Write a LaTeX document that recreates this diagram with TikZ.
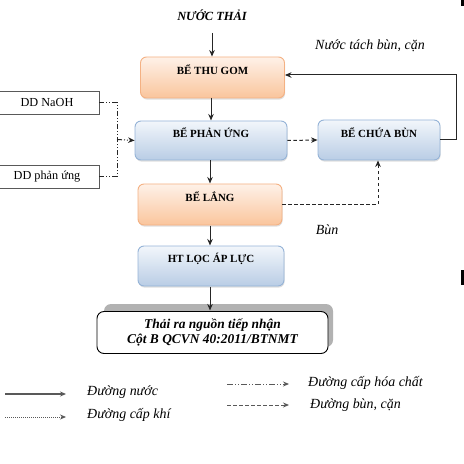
\documentclass[tikz,border=0pt]{standalone}
\usepackage{fontspec}
\setmainfont{Liberation Serif}
\usetikzlibrary{arrows.meta,shadows}
\definecolor{orB}{HTML}{F4B183}
\definecolor{orT}{HTML}{FEF1E8}
\definecolor{orM}{HTML}{FAC59C}
\definecolor{blB}{HTML}{95B3D7}
\definecolor{blT}{HTML}{F2F6FB}
\definecolor{blM}{HTML}{B9CDE5}
\definecolor{lg}{HTML}{595959}
\begin{document}
\begin{tikzpicture}[x=1bp,y=-1bp,
  base/.style={rounded corners=6bp, line width=0.9bp, inner sep=0pt,
    drop shadow={opacity=0.25, shadow xshift=0.6bp, shadow yshift=-1.6bp}},
  orangebox/.style={base, draw=orB, top color=orT, bottom color=orM},
  bluebox/.style={base, draw=blB, top color=blT, bottom color=blM},
  ttl/.style={font=\bfseries\fontsize{11}{13}\selectfont, anchor=center, yshift=-13bp},
  ddbox/.style={draw=lg, line width=0.8bp, fill=white, minimum width=104bp, minimum height=23bp, inner sep=0pt, font=\fontsize{12.3}{14}\selectfont},
  tip/.style={-{Stealth[length=6.5bp,width=5.5bp]}},
  flow/.style={tip, draw=black!85, line width=1bp},
  sludge/.style={tip, draw=black!85, line width=1bp, dash pattern=on 3.5bp off 2.5bp},
  chemline/.style={draw=black!85, line width=1bp, dash pattern=on 5bp off 2bp on 1bp off 2bp on 1bp off 2bp},
  chem/.style={chemline, tip},
  itl/.style={font=\itshape\fontsize{14}{16}\selectfont, inner sep=0pt},
  legline/.style={draw=lg, line width=1.2bp, -{Stealth[length=6bp,width=5bp]}}
]
\useasboundingbox (0,0) rectangle (464,464);

% right-edge marks
\fill[black] (461,0) rectangle (464,6);
\fill[black] (461,270) rectangle (464,285);

\node[font=\bfseries\itshape\fontsize{12.5}{14}\selectfont, inner sep=0pt] (nuoc) at (212,15) {NƯỚC THẢI};
\coordinate (inlet) at (212,33);

\node[orangebox, minimum width=144bp, minimum height=41bp, label={[ttl]north:BỂ THU GOM}] (thugom) at (212.5,77.5) {};
\node[bluebox, minimum width=152bp, minimum height=39bp, label={[ttl, yshift=1bp]north:BỂ PHẢN ỨNG}] (phanung) at (211,140.5) {};
\node[bluebox, minimum width=122bp, minimum height=40bp, label={[ttl]north:BỂ CHỨA BÙN}] (chuabun) at (379,140) {};
\node[orangebox, minimum width=144bp, minimum height=41bp, label={[ttl]north:BỂ LẮNG}] (lang) at (210,204.5) {};
\node[bluebox, minimum width=146bp, minimum height=40bp, label={[ttl]north:HT LỌC ÁP LỰC}] (loc) at (211,266) {};

% final box with offset shadow
\fill[gray!60, rounded corners=7bp] (104,304) rectangle (333,347);
\node[draw=black, line width=0.9bp, fill=white, rounded corners=7bp, minimum width=231bp, minimum height=42bp, inner sep=0pt, align=center,
  font=\bfseries\itshape\fontsize{13.5}{15}\selectfont] (ra) at (212.5,332.5) {Thải ra nguồn tiếp nhận\\Cột B QCVN 40:2011/BTNMT};

\node[ddbox] (naoh) at (47,102.5) {DD NaOH};
\node[ddbox] (ddpu) at (47,176.5) {DD phản ứng};
\coordinate (j) at (117,139.5);

\node[itl] (tach) at (370,46) {Nước tách bùn, cặn};
\node[itl] (bun) at (327,230) {Bùn};

% connectors
\draw[flow] (inlet) -- (inlet |- thugom.north);
\draw[flow] (211,98) -- (211,120.5);
\draw[flow] (210,160.5) -- (210,183.5);
\draw[flow] (210,225.5) -- (210,245.5);
\draw[flow] (210,286.5) -- (210,310.5);

\draw[sludge] (phanung.east) -- (chuabun.west);
\draw[sludge] (lang.east) -| ([xshift=-1bp]chuabun.south);
\draw[flow] (chuabun.east) -- ++(16,0) |- ([yshift=2.5bp]thugom.east);

\draw[chemline] (naoh.east) -| (j);
\draw[chemline] (ddpu.east) -| (j);
\draw[chem] (j) -- (phanung.west);

% legend
\coordinate (l1a) at (5,394); \coordinate (l1b) at (66,394);
\coordinate (l2a) at (5,417); \coordinate (l2b) at (66,417);
\coordinate (l3a) at (227,384); \coordinate (l3b) at (289,384);
\coordinate (l4a) at (227,405); \coordinate (l4b) at (289,405);
\draw[legline] (l1a) -- (l1b);
\draw[legline, line width=0.8bp, dash pattern=on 1bp off 1bp] (l2a) -- (l2b);
\draw[legline, line width=0.9bp, dash pattern=on 6bp off 2bp on 1bp off 2bp on 1bp off 2bp] (l3a) -- (l3b);
\draw[legline, line width=0.9bp, dash pattern=on 3.5bp off 2.5bp] (l4a) -- (l4b);
\node[itl, anchor=west] (t1) at (87,392) {Đường nước};
\node[itl, anchor=west] (t2) at (87,415) {Đường cấp khí};
\node[itl, anchor=west] (t3) at (308,383) {Đường cấp hóa chất};
\node[itl, anchor=west] (t4) at (310,405) {Đường bùn, cặn};
\end{tikzpicture}
\end{document}
